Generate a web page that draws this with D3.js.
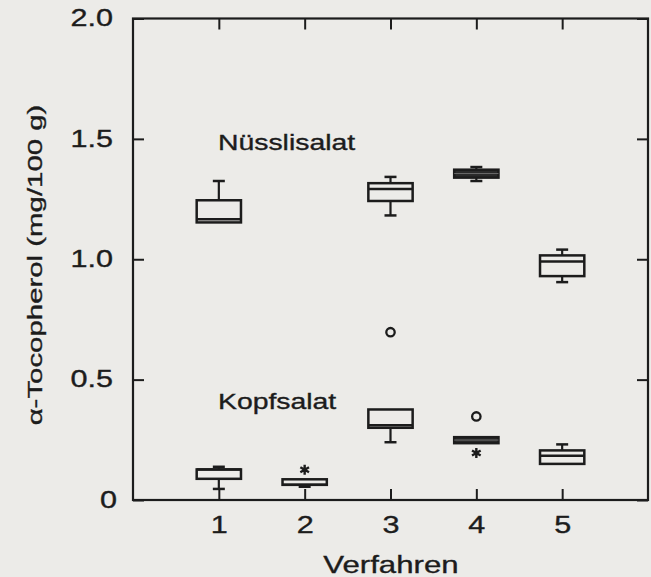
<!DOCTYPE html>
<html>
<head>
<meta charset="utf-8">
<script src="https://cdn.jsdelivr.net/npm/d3@7"></script>
<style>
  html, body { margin: 0; padding: 0; background: #ecebe8; }
  svg { display: block; }
  text { font-family: "Liberation Sans", Arial, Helvetica, sans-serif; fill: #1c1c1c; stroke: #1c1c1c; stroke-width: 0.35px; }
</style>
</head>
<body>
<svg id="chart" width="651" height="577"></svg>
<script>
// ---------------- data ----------------
const verfahren = [1, 2, 3, 4, 5];
const yTickValues = [0, 0.5, 1.0, 1.5, 2.0];
const yTickLabels = ["0", "0.5", "1.0", "1.5", "2.0"];

// Nüsslisalat (no box for Verfahren 2)
const nuessliVerfahren = [1, 3, 4, 5];
const nuessliMin    = [1.153, 1.182, 1.325, 0.905];
const nuessliQ1     = [1.153, 1.242, 1.339, 0.930];
const nuessliMedian = [1.166, 1.292, 1.356, 0.991];
const nuessliQ3     = [1.245, 1.316, 1.372, 1.016];
const nuessliMax    = [1.325, 1.342, 1.383, 1.040];

// Kopfsalat
const kopfVerfahren = [1, 2, 3, 4, 5];
const kopfMin    = [0.046, 0.055, 0.240, 0.236, 0.150];
const kopfQ1     = [0.088, 0.063, 0.300, 0.236, 0.150];
const kopfMedian = [0.127, 0.063, 0.310, 0.249, 0.184];
const kopfQ3     = [0.127, 0.086, 0.376, 0.261, 0.206];
const kopfMax    = [0.138, 0.086, 0.376, 0.261, 0.231];

// outliers (circles) and extremes (asterisks)
const outlierVerfahren = [3, 4];
const outlierValue     = [0.697, 0.347];
const extremeVerfahren = [2, 4];
const extremeValue     = [0.126, 0.195];

const groupLabels = ["Nüsslisalat", "Kopfsalat"];
const groupLabelVerfahren = [0.99, 0.99];
const groupLabelValue = [1.455, 0.378];

// ---------------- chart ----------------
(function () {
const svg = d3.select("#chart");
const mLeft = 133, mRight = 648, mTop = 18.5, mBottom = 500;
const ink = "#1c1c1c";
const sx = 1.33; // horizontal glyph stretch of the scanned typeface

const x = d3.scaleLinear().domain([0, 6]).range([mLeft, mRight]);
const y = d3.scaleLinear().domain([0, 2]).range([mBottom, mTop]);

// frame
svg.append("rect")
  .attr("x", mLeft).attr("y", mTop)
  .attr("width", mRight - mLeft).attr("height", mBottom - mTop)
  .attr("fill", "none").attr("stroke", ink).attr("stroke-width", 2.2);

function styleAxis(g) {
  g.select(".domain").remove();
  g.selectAll(".tick line").attr("stroke", ink).attr("stroke-width", 2);
}

// left axis (labels + inward ticks)
svg.append("g")
  .attr("transform", `translate(${mLeft},0)`)
  .call(d3.axisLeft(y).tickValues(yTickValues)
    .tickFormat((d, i) => yTickLabels[i])
    .tickSizeInner(-11).tickSizeOuter(0).tickPadding(15))
  .call(styleAxis)
  .call(g => g.selectAll(".tick text")
    .attr("font-size", 23).attr("fill", ink)
    .attr("font-family", "Liberation Sans, Arial, sans-serif")
    .attr("transform", d => d === 0 ? `translate(4,0) scale(${sx},1)` : `scale(${sx},1)`));

// right axis ticks
svg.append("g")
  .attr("transform", `translate(${mRight},0)`)
  .call(d3.axisRight(y).tickValues(yTickValues).tickFormat("")
    .tickSizeInner(-11).tickSizeOuter(0))
  .call(styleAxis);

// bottom axis
svg.append("g")
  .attr("transform", `translate(0,${mBottom})`)
  .call(d3.axisBottom(x).tickValues(verfahren).tickFormat(d3.format("d"))
    .tickSizeInner(-11).tickSizeOuter(0).tickPadding(17))
  .call(styleAxis)
  .call(g => g.selectAll(".tick text")
    .attr("font-size", 23).attr("fill", ink)
    .attr("font-family", "Liberation Sans, Arial, sans-serif")
    .attr("transform", `scale(${sx},1)`));

// top axis ticks
svg.append("g")
  .attr("transform", `translate(0,${mTop})`)
  .call(d3.axisTop(x).tickValues(verfahren).tickFormat("")
    .tickSizeInner(-11).tickSizeOuter(0))
  .call(styleAxis);

// axis titles
svg.append("text")
  .attr("transform", `translate(391,573) scale(1.3,1)`)
  .attr("text-anchor", "middle").attr("font-size", 24)
  .text("Verfahren");

svg.append("text")
  .attr("transform", `translate(41.5,265) rotate(-90) scale(1.4,1)`)
  .attr("text-anchor", "middle").attr("font-size", 21)
  .text("α-Tocopherol (mg/100 g)");

// box plots
const halfW = 0.258; // half box width in x units
const capHalf = 6;   // whisker cap half width, px
const sw = 2.5;

function drawBoxes(cls, xs, mins, q1s, meds, q3s, maxs) {
  const rows = xs.map((v, i) => ({ v, min: mins[i], q1: q1s[i], med: meds[i], q3: q3s[i], max: maxs[i] }));
  // very flat boxes with a median inside print as solid bars
  const solid = d => (y(d.q1) - y(d.q3)) < 9 && d.med > d.q1 && d.med < d.q3;
  const g = svg.append("g").attr("class", cls)
    .selectAll("g").data(rows).join("g");

  // upper whisker
  g.filter(d => d.max > d.q3).append("line")
    .attr("x1", d => x(d.v)).attr("x2", d => x(d.v))
    .attr("y1", d => y(d.q3)).attr("y2", d => y(d.max))
    .attr("stroke", ink).attr("stroke-width", 2.2);
  g.filter(d => d.max > d.q3).append("line")
    .attr("x1", d => x(d.v) - capHalf).attr("x2", d => x(d.v) + capHalf)
    .attr("y1", d => y(d.max)).attr("y2", d => y(d.max))
    .attr("stroke", ink).attr("stroke-width", sw);

  // lower whisker
  g.filter(d => d.min < d.q1).append("line")
    .attr("x1", d => x(d.v)).attr("x2", d => x(d.v))
    .attr("y1", d => y(d.q1)).attr("y2", d => y(d.min))
    .attr("stroke", ink).attr("stroke-width", 2.2);
  g.filter(d => d.min < d.q1).append("line")
    .attr("x1", d => x(d.v) - capHalf).attr("x2", d => x(d.v) + capHalf)
    .attr("y1", d => y(d.min)).attr("y2", d => y(d.min))
    .attr("stroke", ink).attr("stroke-width", sw);

  // box
  g.append("rect")
    .attr("x", d => x(d.v - halfW))
    .attr("width", d => x(d.v + halfW) - x(d.v - halfW))
    .attr("y", d => y(d.q3))
    .attr("height", d => Math.max(y(d.q1) - y(d.q3), 0.5))
    .attr("fill", d => solid(d) ? "#2a2a2a" : "none")
    .attr("stroke", ink).attr("stroke-width", sw);

  // median
  g.append("line")
    .attr("x1", d => x(d.v - halfW)).attr("x2", d => x(d.v + halfW))
    .attr("y1", d => y(d.med)).attr("y2", d => y(d.med))
    .attr("stroke", d => solid(d) ? "#6a6a6a" : ink)
    .attr("stroke-width", d => solid(d) ? 1 : sw);
}

drawBoxes("nuessli", nuessliVerfahren, nuessliMin, nuessliQ1, nuessliMedian, nuessliQ3, nuessliMax);
drawBoxes("kopf", kopfVerfahren, kopfMin, kopfQ1, kopfMedian, kopfQ3, kopfMax);

// outliers
svg.append("g").selectAll("circle")
  .data(outlierVerfahren.map((v, i) => ({ v, val: outlierValue[i] })))
  .join("circle")
  .attr("cx", d => x(d.v)).attr("cy", d => y(d.val))
  .attr("r", 4.2).attr("fill", "none").attr("stroke", ink).attr("stroke-width", 2.3);

// extremes
svg.append("g").selectAll("path")
  .data(extremeVerfahren.map((v, i) => ({ v, val: extremeValue[i] })))
  .join("path")
  .attr("transform", d => `translate(${x(d.v)},${y(d.val)})`)
  .attr("d", d3.symbol(d3.symbolAsterisk, 70))
  .attr("fill", "none").attr("stroke", ink).attr("stroke-width", 2.4);

// group labels
svg.append("g").selectAll("text")
  .data(groupLabels.map((t, i) => ({ t, v: groupLabelVerfahren[i], val: groupLabelValue[i] })))
  .join("text")
  .attr("transform", d => `translate(${x(d.v)},${y(d.val)}) scale(1.29,1)`)
  .attr("font-size", 22)
  .text(d => d.t);
})();
</script>
</body>
</html>
